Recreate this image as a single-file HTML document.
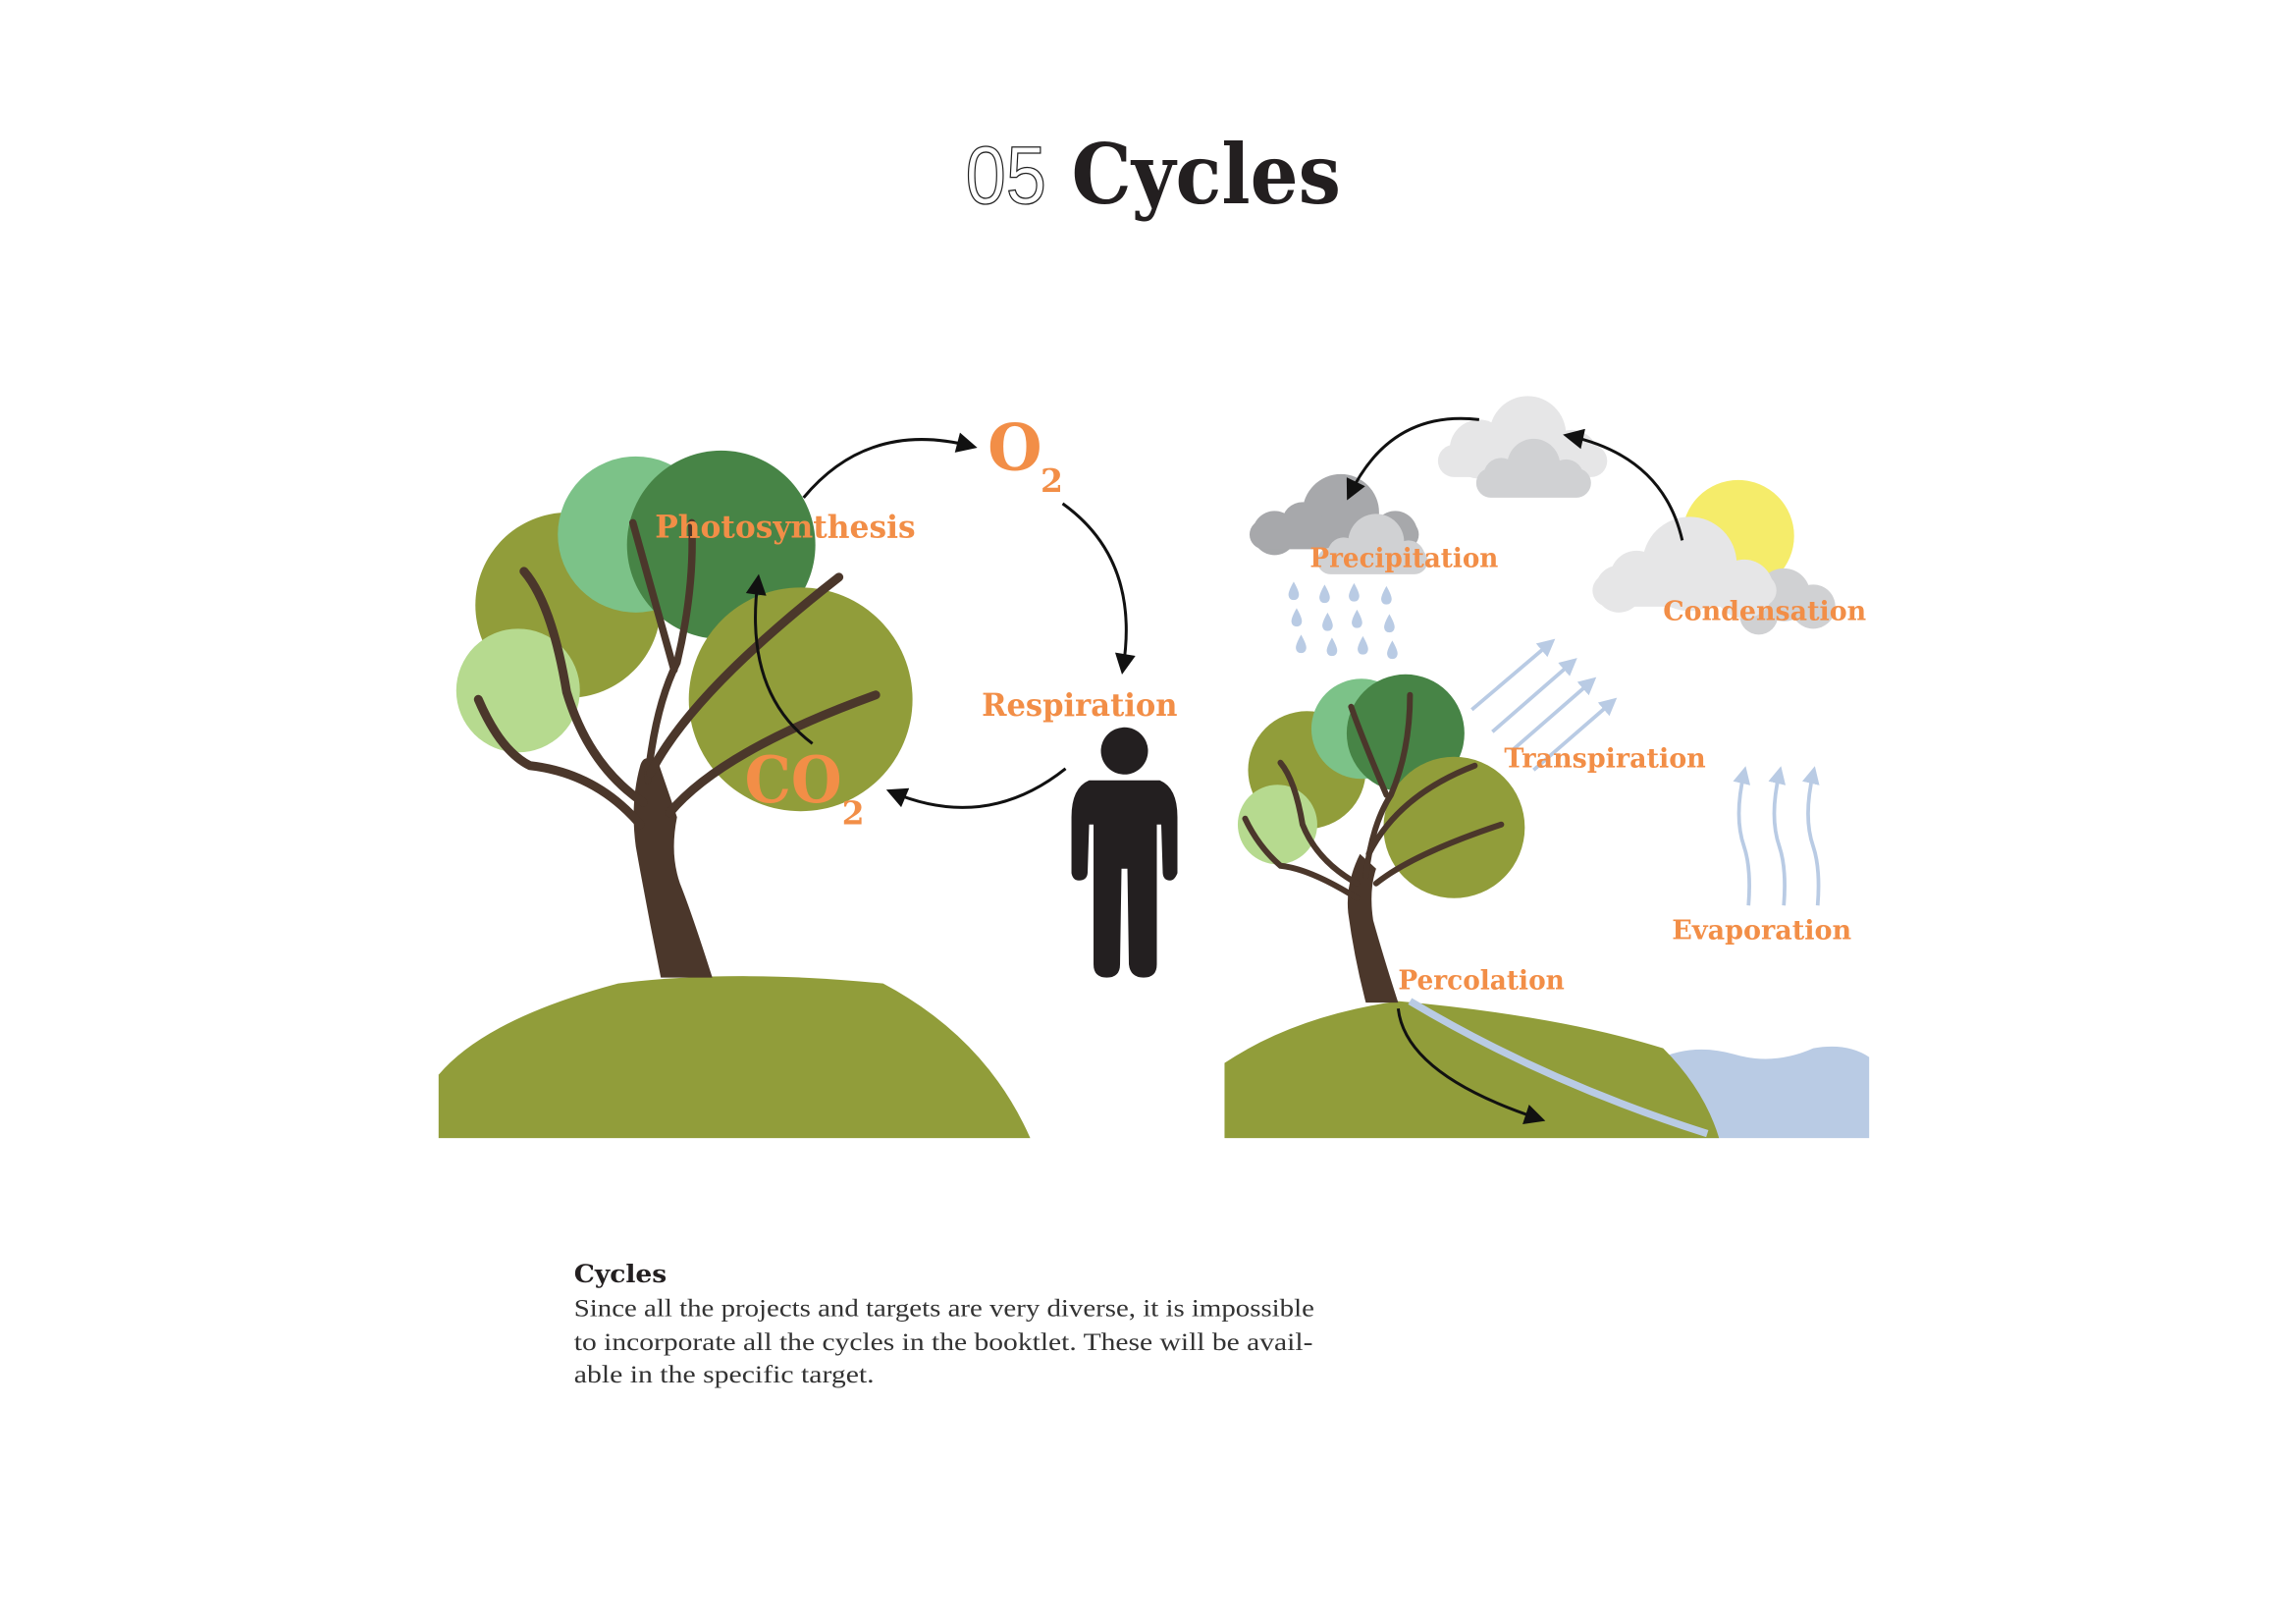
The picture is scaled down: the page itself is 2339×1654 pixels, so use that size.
<!DOCTYPE html>
<html><head><meta charset="utf-8"><style>
html,body{margin:0;padding:0;background:#fff;}
svg{display:block}
.lab{font-family:"DejaVu Serif","Liberation Serif",serif;font-weight:bold;fill:#f28e47;}
</style></head><body>
<svg width="2339" height="1654" viewBox="0 0 1560 1103" xmlns="http://www.w3.org/2000/svg">
<defs>
<marker id="ah" viewBox="0 0 10 10" markerWidth="16" markerHeight="14" refX="7" refY="5" orient="auto" markerUnits="userSpaceOnUse"><path d="M0,0 L10,5 L0,10 Z" fill="#111"/></marker>
<marker id="ab" viewBox="0 0 10 10" markerWidth="12" markerHeight="12" refX="6" refY="5" orient="auto" markerUnits="userSpaceOnUse"><path d="M0,0 L10,5 L0,10 Z" fill="#b9cbe4"/></marker>
<path id="drop" d="M0,-7 Q-4,0 -3.5,2.5 Q-3,5.5 0,5.5 Q3,5.5 3.5,2.5 Q4,0 0,-7Z"/>
</defs>
<rect width="1560" height="1103" fill="#fff"/>
<!-- title -->
<text x="656" y="138" font-family="Liberation Sans, sans-serif" font-size="56" fill="none" stroke="#222" stroke-width="0.9" textLength="55" lengthAdjust="spacingAndGlyphs">05</text>
<text x="728" y="138" font-family="DejaVu Serif, serif" font-weight="bold" font-size="56" fill="#231f20" textLength="183" lengthAdjust="spacingAndGlyphs">Cycles</text>

<!-- LEFT SCENE -->
<path d="M298,773 L298,730 Q330,692 420,668 Q500,658 600,668 Q670,705 700,773 Z" fill="#919d3a"/>
<circle cx="386" cy="411" r="63" fill="#919d3a"/>
<circle cx="432" cy="363" r="53" fill="#7cc288"/>
<circle cx="490" cy="370" r="64" fill="#478446"/>
<circle cx="352" cy="469" r="42" fill="#b6da8f"/>
<circle cx="544" cy="475" r="76" fill="#919d3a"/>
<path d="M449,664 L484,664 Q470,620 462,600 Q455,580 460,555 L448,520 Q438,510 435,520 Q428,545 432,575 Q440,620 449,664 Z" fill="#4b372b"/>
<g fill="none" stroke="#4b372b" stroke-linecap="round">
<path d="M440,530 Q445,480 460,450 Q472,400 470,355" stroke-width="5"/>
<path d="M458,455 Q440,390 430,355" stroke-width="5"/>
<path d="M442,525 Q470,470 570,392" stroke-width="6"/>
<path d="M455,552 Q490,510 595,472" stroke-width="6"/>
<path d="M437,545 Q400,520 385,470 Q375,410 356,388" stroke-width="6"/>
<path d="M435,560 Q405,525 360,520 Q340,510 325,475" stroke-width="6"/>
</g>
<!-- person -->
<circle cx="764" cy="510" r="16" fill="#231f20"/>
<path d="M740,530 L788,530 Q800,535 800,555 L800,593 Q798,598 795,598 Q790,598 790,592 L789,560 L786,560 L786,655 Q786,664 777,664 Q768,664 767,655 L766,590 L762,590 L761,655 Q761,664 752,664 Q743,664 743,655 L743,560 L740,560 L739,592 Q739,598 733,598 Q729,598 728,593 L728,555 Q728,535 740,530 Z" fill="#231f20"/>
<!-- arrows -->
<g fill="none" stroke="#111" stroke-width="2">
<path d="M546,338 Q590,285 660,303" marker-end="url(#ah)"/>
<path d="M722,342 Q775,380 763,454" marker-end="url(#ah)"/>
<path d="M724,522 Q670,565 606,538" marker-end="url(#ah)"/>
<path d="M552,505 Q505,470 515,394" marker-end="url(#ah)"/>
</g>
<text class="lab" x="445" y="365" font-size="21" textLength="177" lengthAdjust="spacingAndGlyphs">Photosynthesis</text>
<text class="lab" x="671" y="319" font-size="44" textLength="37" lengthAdjust="spacingAndGlyphs">O</text>
<text class="lab" x="707" y="334" font-size="22">2</text>
<text class="lab" x="667" y="486" font-size="21" textLength="133" lengthAdjust="spacingAndGlyphs">Respiration</text>
<text class="lab" x="506" y="545" font-size="44" textLength="66" lengthAdjust="spacingAndGlyphs">CO</text>
<text class="lab" x="572" y="560" font-size="22">2</text>

<!-- RIGHT SCENE -->
<path d="M1125,720 Q1150,708 1178,716 Q1205,724 1232,712 Q1255,708 1270,718 L1270,773 L1150,773 Z" fill="#b9cbe4"/>
<path d="M832,773 L832,722 Q880,690 950,680 Q1060,690 1130,712 Q1158,740 1168,773 Z" fill="#919d3a"/>
<path d="M958,680 Q1050,735 1160,770" fill="none" stroke="#b9cbe4" stroke-width="5"/>
<path d="M950,685 Q955,730 1046,760" fill="none" stroke="#111" stroke-width="2" marker-end="url(#ah)"/>
<circle cx="888" cy="523" r="40" fill="#919d3a"/>
<circle cx="925" cy="495" r="34" fill="#7cc288"/>
<circle cx="955" cy="498" r="40" fill="#478446"/>
<circle cx="868" cy="560" r="27" fill="#b6da8f"/>
<circle cx="988" cy="562" r="48" fill="#919d3a"/>
<path d="M928,681 L950,681 Q940,650 933,625 Q930,605 935,590 L924,580 Q914,600 916,620 Q920,650 928,681 Z" fill="#4b372b"/>
<g fill="none" stroke="#4b372b" stroke-linecap="round">
<path d="M928,595 Q932,560 945,540 Q958,510 958,472" stroke-width="4"/>
<path d="M942,540 Q925,500 918,480" stroke-width="4"/>
<path d="M930,580 Q950,540 1002,520" stroke-width="4"/>
<path d="M935,600 Q960,580 1020,560" stroke-width="4"/>
<path d="M922,600 Q895,585 885,560 Q880,530 870,518" stroke-width="4"/>
<path d="M922,610 Q890,590 870,588 Q855,575 846,556" stroke-width="4"/>
</g>
<!-- clouds -->
<g fill="#e6e6e7">
<circle cx="1038" cy="295" r="26"/><circle cx="1005" cy="305" r="20"/><circle cx="1068" cy="310" r="18"/><rect x="977" y="302" width="115" height="22" rx="11"/>
</g>
<g fill="#d0d1d3">
<circle cx="1042" cy="316" r="18"/><circle cx="1020" cy="323" r="12"/><circle cx="1064" cy="324" r="12"/><rect x="1003" y="318" width="78" height="20" rx="10"/>
</g>
<g fill="#a7a8ab">
<circle cx="911" cy="348" r="26"/><circle cx="885" cy="355" r="14"/><circle cx="866" cy="362" r="15"/><circle cx="948" cy="362" r="15"/><rect x="849" y="353" width="115" height="20" rx="10"/>
</g>
<g fill="#d0d1d3">
<circle cx="935" cy="368" r="19"/><circle cx="913" cy="376" r="11"/><circle cx="957" cy="378" r="11"/><rect x="895" y="372" width="75" height="18" rx="9"/>
</g>
<circle cx="1181" cy="364" r="38" fill="#f5ec6a"/>
<g fill="#d0d1d3"><circle cx="1212" cy="404" r="18"/><circle cx="1232" cy="412" r="15"/><circle cx="1195" cy="418" r="13"/></g>
<g fill="#e6e6e7">
<circle cx="1148" cy="383" r="32"/><circle cx="1112" cy="392" r="18"/><circle cx="1185" cy="400" r="20"/><circle cx="1100" cy="400" r="16"/><rect x="1082" y="390" width="125" height="22" rx="11"/>
</g>
<g fill="none" stroke="#111" stroke-width="2">
<path d="M1005,285 Q945,278 917,336" marker-end="url(#ah)"/>
<path d="M1143,367 Q1130,310 1066,296" marker-end="url(#ah)"/>
</g>
<!-- rain -->
<g fill="#b9cbe4">
<use href="#drop" x="879" y="402"/><use href="#drop" x="900" y="404"/><use href="#drop" x="920" y="403"/><use href="#drop" x="942" y="405"/>
<use href="#drop" x="881" y="420"/><use href="#drop" x="902" y="423"/><use href="#drop" x="922" y="421"/><use href="#drop" x="944" y="424"/>
<use href="#drop" x="884" y="438"/><use href="#drop" x="905" y="440"/><use href="#drop" x="926" y="439"/><use href="#drop" x="946" y="442"/>
</g>
<!-- transpiration / evaporation -->
<g stroke="#b9cbe4" stroke-width="2.5" fill="none">
<path d="M1000,482 L1053,437" marker-end="url(#ab)"/>
<path d="M1014,497 L1068,450" marker-end="url(#ab)"/>
<path d="M1027,510 L1081,463" marker-end="url(#ab)"/>
<path d="M1042,523 L1095,477" marker-end="url(#ab)"/>
<path d="M1188,615 Q1190,590 1185,575 Q1178,555 1185,525" marker-end="url(#ab)"/>
<path d="M1212,615 Q1214,590 1209,575 Q1202,555 1209,525" marker-end="url(#ab)"/>
<path d="M1235,615 Q1237,590 1232,575 Q1225,555 1232,525" marker-end="url(#ab)"/>
</g>
<text class="lab" x="890" y="385" font-size="18" textLength="128" lengthAdjust="spacingAndGlyphs">Precipitation</text>
<text class="lab" x="1130" y="421" font-size="18" textLength="138" lengthAdjust="spacingAndGlyphs">Condensation</text>
<text class="lab" x="1022" y="521" font-size="18" textLength="137" lengthAdjust="spacingAndGlyphs">Transpiration</text>
<text class="lab" x="1136" y="638" font-size="18" textLength="122" lengthAdjust="spacingAndGlyphs">Evaporation</text>
<text class="lab" x="950" y="672" font-size="18" textLength="113" lengthAdjust="spacingAndGlyphs">Percolation</text>

<!-- body text -->
<text x="390" y="871" font-family="DejaVu Serif, serif" font-weight="bold" font-size="17" fill="#231f20" textLength="63" lengthAdjust="spacingAndGlyphs">Cycles</text>
<g font-family="Liberation Serif, serif" font-size="17" fill="#333">
<text x="390" y="894" textLength="503" lengthAdjust="spacingAndGlyphs">Since all the projects and targets are very diverse, it is impossible</text>
<text x="390" y="917" textLength="502" lengthAdjust="spacingAndGlyphs">to incorporate all the cycles in the booktlet. These will be avail-</text>
<text x="390" y="939" textLength="204" lengthAdjust="spacingAndGlyphs">able in the specific target.</text>
</g>
</svg>
</body></html>
